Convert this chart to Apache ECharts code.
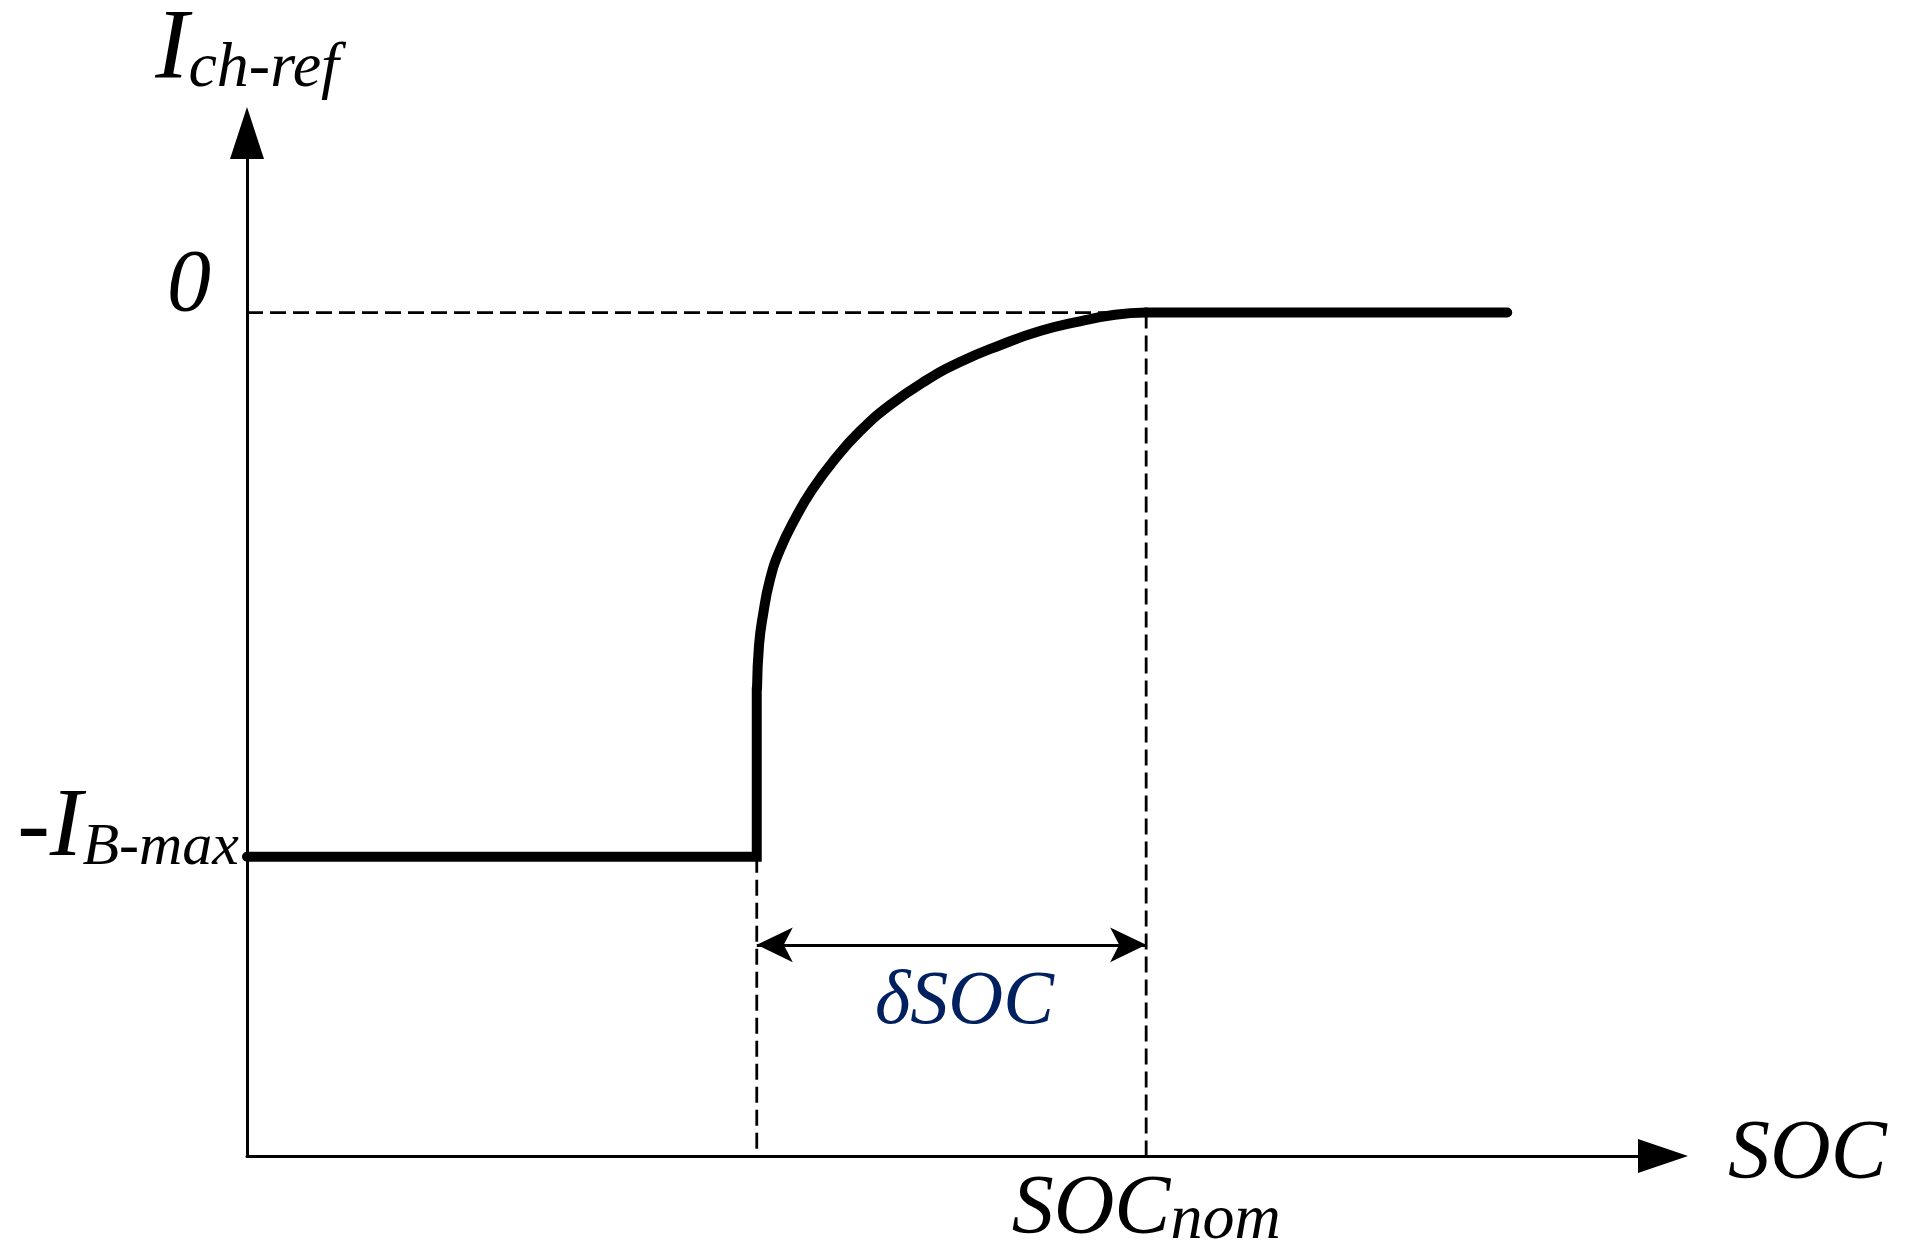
<!DOCTYPE html>
<html>
<head>
<meta charset="utf-8">
<script src="https://cdn.jsdelivr.net/npm/echarts@6/dist/echarts.min.js"></script>
<style>
  html, body { margin: 0; padding: 0; background: #fff; }
  #chart { width: 1910px; height: 1255px; }
</style>
</head>
<body>
<div id="chart"></div>
<script>
// ---------------- data ----------------
const socRange = [0, 100];            // SOC axis extent (arbitrary units)
const iRange = [-1.55, 0.33];         // I_ch-ref axis extent (0 = zero current, -1 = -I_B-max)
const socStep = 36;                   // SOC where charging switches from constant current
const socNom = 63.5;                  // SOC_nom
const socEnd = 89;                    // end of drawn characteristic
const iZero = 0;
const iBmax = -1;
const iCurveStart = -0.69;            // top of vertical step
const arrowLevel = -1.162;            // level of the δSOC dimension arrow

// constant-current part + step
const stepSOC = [0, socStep, socStep];
const stepI = [iBmax, iBmax, iCurveStart];
// tapering curve
const curveSOC = [36.02, 36.16, 36.44, 36.93, 37.64, 38.70, 39.90, 41.53, 43.29, 45.41, 47.88, 50.35, 53.18, 56.00, 58.83, 61.30, 63.5];
const curveI   = [-0.690, -0.611, -0.556, -0.491, -0.436, -0.379, -0.326, -0.269, -0.218, -0.170, -0.126, -0.091, -0.060, -0.034, -0.016, -0.004, 0];
// zero-current part
const flatSOC = [socNom, socEnd];
const flatI = [iZero, iZero];

// tick labels
const yTickValues = [iZero, iBmax];
const xTickValues = [socNom];
const yAxisTitle = ['I', 'ch-ref'];
const xAxisTitle = 'SOC';
const zeroLabel = '0';
const ibLabel = ['-I', 'B-max'];
const nomLabel = ['SOC', 'nom'];
const deltaLabel = 'δSOC';

// ---------------- helpers ----------------
const FONT = "'Liberation Serif', 'Times New Roman', serif";
const C = 16;
function lh(fs) { return Math.round(2 * C + 0.675 * fs); }
function tok(fs, extra) {
  return Object.assign({ fontSize: fs, lineHeight: lh(fs), verticalAlign: 'bottom',
    fontFamily: FONT, fontStyle: 'italic', color: '#000' }, extra || {});
}
function zip(a, b) { return a.map((v, i) => [v, b[i]]); }

const chart = echarts.init(document.getElementById('chart'), null, { renderer: 'canvas' });

const thick = { color: '#000', width: 10, cap: 'round', join: 'miter' };
const dashed = { color: '#000', width: 2.8, type: [16, 7] };

const option = {
  animation: false,
  backgroundColor: '#fff',
  grid: { left: 247, right: 247, top: 133, bottom: 99, containLabel: false, outerBoundsMode: 'none' },
  xAxis: {
    type: 'value', min: socRange[0], max: socRange[1],
    splitLine: { show: false }, axisTick: { show: false },
    axisLine: { show: true, onZero: false, symbol: ['none', 'triangle'], symbolSize: [34, 50],
      lineStyle: { color: '#000', width: 3 } },
    axisLabel: {
      show: true, margin: 8, customValues: xTickValues,
      formatter: () => '{a|' + nomLabel[0] + '}{b|' + nomLabel[1] + '}',
      rich: { a: tok(84), b: tok(64) }
    },
    name: xAxisTitle, nameLocation: 'end', nameGap: 65,
    nameTextStyle: { fontFamily: FONT, fontStyle: 'italic', fontSize: 84, color: '#000',
      lineHeight: lh(84), padding: [0, 0, 17, 0] }
  },
  yAxis: {
    type: 'value', min: iRange[0], max: iRange[1],
    splitLine: { show: false }, axisTick: { show: false },
    axisLine: { show: true, onZero: false, symbol: ['none', 'triangle'], symbolSize: [34, 52],
      lineStyle: { color: '#000', width: 3 } },
    axisLabel: {
      show: true, margin: 8, customValues: yTickValues, padding: [0, 0, 54, 0],
      formatter: (v) => v === iZero ? '{z|' + zeroLabel + '}'
                                     : '{a|' + ibLabel[0] + '}{b|' + ibLabel[1] + '}',
      rich: { z: tok(88, { padding: [0, 28, 0, 0] }), a: tok(98), b: tok(60) }
    },
    name: '{a|' + yAxisTitle[0] + '}{b|' + yAxisTitle[1] + '}',
    nameLocation: 'end', nameGap: 32,
    nameTextStyle: { rich: { a: tok(100), b: tok(64) } }
  },
  series: [
    { type: 'line', name: 'zeroDash', data: [[socRange[0], iZero], [socNom, iZero]],
      symbol: 'none', silent: true, z: 1, lineStyle: dashed },
    { type: 'line', name: 'stepDash', data: [[socStep, iBmax], [socStep, iRange[0]]],
      symbol: 'none', silent: true, z: 1, lineStyle: dashed },
    { type: 'line', name: 'nomDash', data: [[socNom, iZero], [socNom, iRange[0]]],
      symbol: 'none', silent: true, z: 1, lineStyle: dashed,
      markLine: {
        silent: true, symbol: ['arrow', 'arrow'], symbolSize: [26, 36],
        lineStyle: { color: '#000', width: 3.2, type: 'solid' },
        label: { show: true, position: 'insideMiddleBottom', distance: 20, formatter: deltaLabel,
          padding: [0, 0, 0, 26],
          fontFamily: FONT, fontStyle: 'italic', fontSize: 76, color: '#002060' },
        emphasis: { disabled: true },
        data: [[{ coord: [socStep, arrowLevel] }, { coord: [socNom, arrowLevel] }]]
      }
    },
    { type: 'line', name: 'step', data: zip(stepSOC, stepI), symbol: 'none', silent: true, z: 3,
      lineStyle: thick },
    { type: 'line', name: 'curve', data: zip(curveSOC, curveI), symbol: 'none', silent: true, z: 3,
      smooth: 0.5, lineStyle: thick },
    { type: 'line', name: 'flat', data: zip(flatSOC, flatI), symbol: 'none', silent: true, z: 3,
      lineStyle: thick }
  ]
};
chart.setOption(option);
</script>
</body>
</html>
